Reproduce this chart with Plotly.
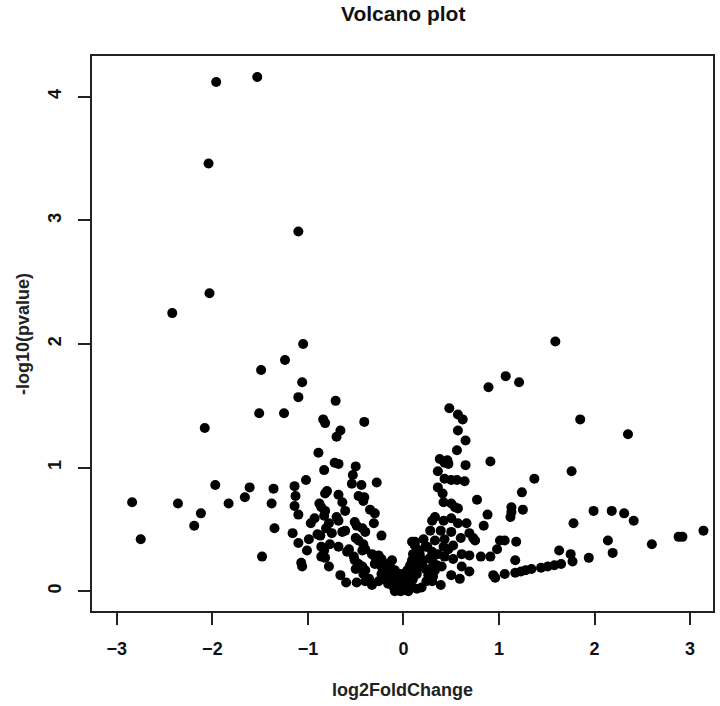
import plotly.graph_objects as go

# log2 fold change / -log10(pvalue)
down_fc = [
    -1.96, -1.53, -2.04, -1.10, -2.03, -2.42, -1.05, -1.24, -1.49, -1.06, -1.10, -0.71,
    -1.51, -1.25, -2.08, -0.84, -0.82, -0.41, -0.66, -0.70, -0.89, -0.72, -0.68,
    -2.84, -2.75, -2.36, -1.97, -2.12, -2.19, -1.83, -1.66, -1.61, -1.48,
    -0.50, -0.83, -0.53, -1.02, -0.28, -0.54, -0.44, -1.36, -1.14, -0.80, -0.82, -0.68,
    -0.47, -0.41, -0.42, -1.13, -1.38, -0.88, -0.86, -0.64, -1.14, -0.82, -0.83, -0.61,
    -0.35, -0.30, -1.10, -0.70, -0.68, -0.93, -0.97, -0.51, -0.49, -0.31, -0.78, -0.81,
    -1.35, -0.43, -0.40, -0.61, -0.64, -0.90, -0.87, -0.75, -1.16, -0.23, -0.50, -0.47,
    -0.99, -1.10, -0.77, -0.68, -0.86, -0.83, -0.57, -0.59, -0.42, -0.40, -0.43, -1.01,
    -0.86, -0.82, -0.52, -0.51, -0.33, -0.30, -0.26, -0.23, -1.07, -1.06, -0.78, -0.47,
    -0.43, -0.40, -0.30, -0.23, -0.16, -0.19, -0.66, -0.60, -0.49,
    -0.33, -0.26, -0.21, -0.16, -0.10, -0.05, -0.02, -0.07, -0.12, -0.17, -0.23, -0.36,
    -0.42, -0.40, -0.03, -0.09, -0.50, -0.24, -0.19, -0.14, -0.12, -0.09, -0.03, -0.03,
]
down_p = [
    4.12, 4.16, 3.46, 2.91, 2.41, 2.25, 2.00, 1.87, 1.79, 1.69, 1.57, 1.54,
    1.44, 1.44, 1.32, 1.39, 1.36, 1.37, 1.30, 1.25, 1.12, 1.04, 1.03,
    0.72, 0.42, 0.71, 0.86, 0.63, 0.53, 0.71, 0.76, 0.84, 0.28,
    1.01, 0.98, 0.94, 0.90, 0.88, 0.87, 0.86, 0.83, 0.85, 0.81, 0.79, 0.78,
    0.77, 0.76, 0.73, 0.77, 0.71, 0.71, 0.68, 0.72, 0.69, 0.65, 0.61, 0.65,
    0.66, 0.63, 0.62, 0.60, 0.57, 0.59, 0.55, 0.56, 0.53, 0.55, 0.55, 0.51,
    0.51, 0.51, 0.48, 0.49, 0.48, 0.46, 0.45, 0.47, 0.47, 0.45, 0.43, 0.41,
    0.42, 0.39, 0.38, 0.36, 0.36, 0.33, 0.34, 0.32, 0.38, 0.34, 0.33, 0.33,
    0.28, 0.27, 0.28, 0.25, 0.30, 0.28, 0.29, 0.26, 0.23, 0.20, 0.20, 0.22,
    0.20, 0.17, 0.22, 0.20, 0.21, 0.17, 0.13, 0.07, 0.07,
    0.05, 0.08, 0.10, 0.06, 0.03, 0.01, 0.05, 0.09, 0.12, 0.16, 0.14, 0.10,
    0.14, 0.08, 0.00, 0.00, 0.18, 0.25, 0.22, 0.20, 0.25, 0.17, 0.14, 0.10,
]

up_fc = [
    1.59, 1.07, 1.21, 0.89, 0.48, 0.57, 0.62, 1.85, 0.57, 0.65, 2.35, 0.56, 0.38, 0.46, 0.91,
    0.43, 0.47, 0.65, 0.36, 1.37, 0.43, 0.50, 0.56, 0.64, 0.36, 0.41, 1.24, 0.77, 0.42, 0.50,
    0.54, 0.57, 1.13, 1.13, 1.12, 1.25, 0.88, 0.84, 0.30, 0.33, 0.42, 0.50, 0.57, 0.66, 0.28,
    0.39, 0.50, 0.69, 0.73, 0.75, 0.60, 0.21, 0.12, 0.33, 0.43, 1.01, 1.06, 1.18, 0.52, 0.42,
    0.47, 0.98, 0.25, 0.30, 1.63, 0.61, 0.69, 0.81, 0.91, 0.43, 0.52, 1.17, 0.17, 0.21, 0.28,
    0.40, 0.61, 0.69, 0.50, 0.59, 0.39,
    0.94, 0.96, 1.06, 1.17, 1.23, 1.28, 1.34, 1.44, 1.51, 1.58, 1.65,
    1.76, 1.99, 2.18, 2.31, 2.41, 1.78, 2.14, 2.19, 2.60, 2.88, 2.92, 3.14, 1.75, 1.77, 1.94,
    0.02, 0.05, 0.09, 0.10, 0.12, 0.14, 0.14, 0.02, 0.00, 0.04, 0.07, 0.09,
    0.00, 0.05, 0.02, 0.07, 0.10, 0.03, 0.09, 0.14, 0.16, 0.12, 0.19, 0.23, 0.26, 0.30, 0.24,
    0.19, 0.14, 0.28, 0.16, 0.10, 0.16, 0.23, 0.30, 0.33, 0.31, 0.35, 0.36, 0.12, 0.09,
]
up_p = [
    2.02, 1.74, 1.69, 1.65, 1.48, 1.43, 1.39, 1.39, 1.30, 1.22, 1.27, 1.14, 1.07, 1.06, 1.05,
    1.04, 1.03, 1.02, 0.97, 0.91, 0.91, 0.90, 0.90, 0.89, 0.84, 0.79, 0.80, 0.74, 0.72, 0.71,
    0.68, 0.67, 0.68, 0.64, 0.60, 0.66, 0.62, 0.53, 0.57, 0.60, 0.57, 0.59, 0.55, 0.55, 0.49,
    0.49, 0.48, 0.47, 0.43, 0.41, 0.43, 0.42, 0.40, 0.41, 0.42, 0.41, 0.41, 0.40, 0.37, 0.36,
    0.34, 0.34, 0.36, 0.32, 0.33, 0.30, 0.29, 0.28, 0.28, 0.28, 0.26, 0.25, 0.30, 0.25, 0.27,
    0.20, 0.20, 0.16, 0.13, 0.10, 0.05,
    0.13, 0.11, 0.14, 0.15, 0.16, 0.17, 0.18, 0.19, 0.20, 0.21, 0.22,
    0.97, 0.65, 0.65, 0.63, 0.57, 0.55, 0.41, 0.31, 0.38, 0.44, 0.44, 0.49, 0.30, 0.24, 0.27,
    0.01, 0.05, 0.09, 0.14, 0.20, 0.25, 0.33, 0.08, 0.12, 0.17, 0.21, 0.25,
    0.01, 0.00, 0.05, 0.06, 0.10, 0.14, 0.17, 0.14, 0.20, 0.22, 0.22, 0.18, 0.13, 0.08, 0.08,
    0.03, 0.02, 0.18, 0.28, 0.30, 0.33, 0.36, 0.25, 0.17, 0.12, 0.21, 0.30, 0.37, 0.40,
]

x_ticks = [-3, -2, -1, 0, 1, 2, 3]
y_ticks = [0, 1, 2, 3, 4]

FONT = "Liberation Sans, Arial, Helvetica, sans-serif"
marker = dict(color="black", size=10, line=dict(width=0))

fig = go.Figure()
fig.add_trace(go.Scatter(x=down_fc, y=down_p, mode="markers", marker=marker, showlegend=False))
fig.add_trace(go.Scatter(x=up_fc, y=up_p, mode="markers", marker=marker, showlegend=False))

axis_common = dict(
    showgrid=False, zeroline=False, showline=True, mirror=True,
    linecolor="#222", linewidth=2, ticks="outside", ticklen=12, tickwidth=2,
    tickcolor="#222", tickfont=dict(family=FONT, size=18, color="#111", weight="bold"),
)
fig.update_xaxes(range=[-3.26, 3.24], tickvals=x_ticks, ticklabelstandoff=8, **axis_common)
fig.update_yaxes(range=[-0.16, 4.33], tickvals=y_ticks, tickangle=-90, ticklabelstandoff=10,
                 **axis_common)

fig.update_layout(
    width=720, height=706,
    margin=dict(l=92, r=5, t=56, b=95),
    paper_bgcolor="white", plot_bgcolor="white",
    annotations=[
        dict(text="Volcano plot", xref="paper", yref="paper", x=0.5, y=1.077,
             xanchor="center", yanchor="middle", showarrow=False,
             font=dict(family=FONT, size=21, color="#111", weight="bold")),
        dict(text="log2FoldChange", xref="paper", yref="paper", x=0.5, y=-0.142,
             xanchor="center", yanchor="middle", showarrow=False,
             font=dict(family=FONT, size=18, color="#222", weight="bold")),
        dict(text="-log10(pvalue)", xref="paper", yref="paper", x=-0.112, y=0.5,
             xanchor="center", yanchor="middle", textangle=-90, showarrow=False,
             font=dict(family=FONT, size=18, color="#222", weight="bold")),
    ],
)

fig.write_html("out.html")
